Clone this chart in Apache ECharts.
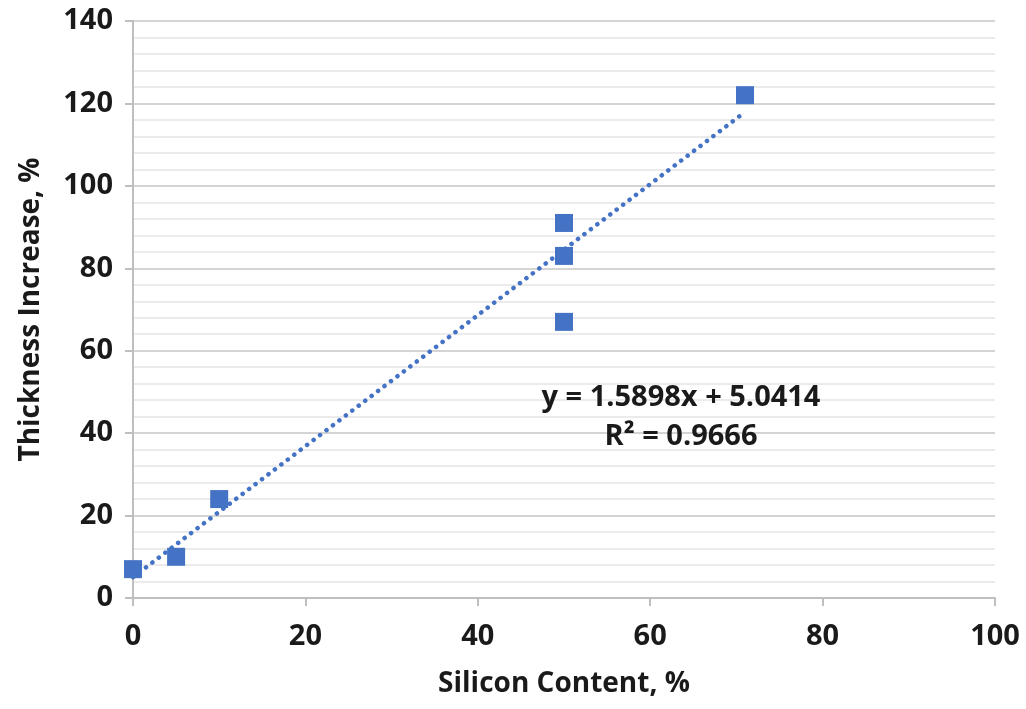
<!DOCTYPE html>
<html><head><meta charset="utf-8">
<script src="https://cdn.jsdelivr.net/npm/echarts@6/dist/echarts.min.js"></script>
<style>html,body{margin:0;padding:0;background:#fff}#c{width:1026px;height:709px}</style>
</head><body><div id="c"></div>
<script>
const siliconContent = [0, 5, 10, 50, 50, 50, 71];
const thicknessIncrease = [7, 10, 24, 91, 83, 67, 122];
const trendSlope = 1.5898;
const trendIntercept = 5.0414;
const trendRange = [0, 71];
const eqText = 'y = 1.5898x + 5.0414';
const r2Text = 'R² = 0.9666';
const xTitle = 'Silicon Content, %';
const yTitle = 'Thickness Increase, %';

const points = siliconContent.map((x, i) => [x, thicknessIncrease[i]]);
const trend = trendRange.map(x => [x, trendSlope * x + trendIntercept]);
const font = '"Open Sans", "Liberation Sans", sans-serif';
const blue = '#4472C4';
const txt = '#1a1a1a';

const chart = echarts.init(document.getElementById('c'));
chart.setOption({
  animation: false,
  grid: {left: 133, right: 31, top: 21, bottom: 111},
  xAxis: {
    type: 'value', min: 0, max: 100, interval: 20,
    name: xTitle, nameLocation: 'middle', nameGap: 72,
    nameTextStyle: {fontFamily: font, fontWeight: 'bold', fontSize: 28, color: txt},
    axisLine: {lineStyle: {color: '#bfbfbf', width: 2}},
    axisTick: {show: true, length: 8, lineStyle: {color: '#bfbfbf', width: 2}},
    axisLabel: {fontFamily: font, fontWeight: 'bold', fontSize: 29, color: txt, margin: 24},
    splitLine: {show: false}
  },
  yAxis: {
    type: 'value', min: 0, max: 140, interval: 20,
    name: yTitle, nameLocation: 'middle', nameGap: 88,
    nameTextStyle: {fontFamily: font, fontWeight: 'bold', fontSize: 28, color: txt},
    axisLine: {show: true, lineStyle: {color: '#bfbfbf', width: 2}},
    axisTick: {show: true, length: 8, lineStyle: {color: '#bfbfbf', width: 2}},
    axisLabel: {fontFamily: font, fontWeight: 'bold', fontSize: 29, color: txt, margin: 20},
    splitLine: {show: true, lineStyle: {color: '#d4d4d4', width: 2}},
    minorTick: {show: false, splitNumber: 5},
    minorSplitLine: {show: true, lineStyle: {color: '#ebebeb', width: 2}}
  },
  series: [
    {
      type: 'line', data: trend, showSymbol: false, symbol: 'none',
      lineStyle: {color: blue, width: 4.5, type: [0.1, 8], cap: 'round'},
      z: 3
    },
    {
      type: 'scatter', data: points, symbol: 'rect', symbolSize: 18,
      itemStyle: {color: blue, opacity: 1}, z: 4
    }
  ],
  graphic: [
    {type: 'text', z: 100, x: 681, y: 398, style: {text: eqText, align: 'center', verticalAlign: 'middle',
      font: 'bold 29px "Open Sans", "Liberation Sans", sans-serif', fill: txt}},
    {type: 'text', z: 100, x: 681, y: 437, style: {text: r2Text, align: 'center', verticalAlign: 'middle',
      font: 'bold 29px "Open Sans", "Liberation Sans", sans-serif', fill: txt}}
  ]
});
</script></body></html>
